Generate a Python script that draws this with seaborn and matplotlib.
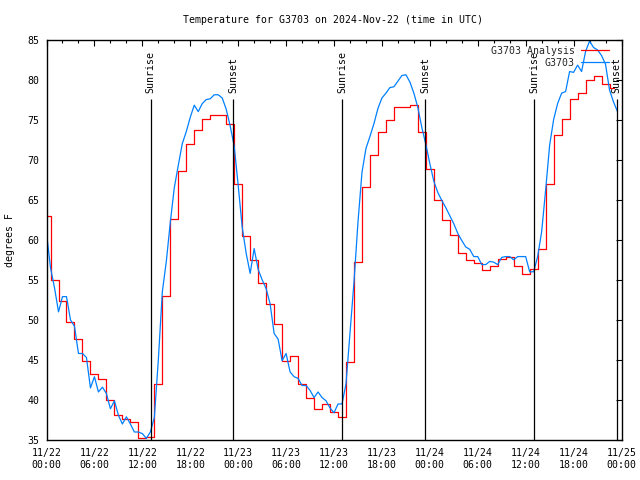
import matplotlib
matplotlib.use("Agg")
import matplotlib.pyplot as plt
import matplotlib.dates as mdates
import seaborn as sns
import pandas as pd

# Hourly analysis values (deg F), 11/22 00:00 UTC onwards
analysis_temps = [
    63.0, 55.0, 52.3, 49.7, 47.6, 44.9, 43.2, 42.6, 40.0, 38.1, 37.6, 37.2,
    35.3, 35.4, 42.0, 53.0, 62.6, 68.6, 71.9, 73.7, 75.1, 75.6, 75.6, 74.4,
    67.0, 60.5, 57.5, 54.6, 52.0, 49.5, 44.9, 45.5, 42.0, 40.3, 38.9, 39.5,
    38.5, 37.9, 44.7, 57.2, 66.6, 70.6, 73.4, 75.0, 76.6, 76.6, 76.8, 73.5,
    68.8, 65.0, 62.5, 60.6, 58.3, 57.5, 57.1, 56.2, 56.7, 57.6, 57.8, 56.7,
    55.7, 56.3, 58.9, 66.9, 73.1, 75.1, 77.6, 78.3, 79.9, 80.4, 79.5, 79.0,
]

# Station observations (deg F), every 30 minutes from 11/22 00:00 UTC
station_temps = [
    60.8, 56.5, 54.0, 51.0, 52.9, 52.9, 50.0, 49.2, 45.8, 45.8, 45.3, 41.5,
    42.9, 41.0, 41.6, 40.8, 38.9, 39.9, 38.1, 37.0, 37.9, 37.0, 36.0, 36.0,
    35.8, 35.2, 36.0, 37.8, 45.0, 53.5, 57.3, 62.2, 66.5, 69.3, 72.0, 73.5,
    75.3, 76.8, 76.0, 77.0, 77.5, 77.6, 78.1, 78.1, 77.7, 76.3, 74.2, 71.7,
    66.8, 61.6, 58.3, 55.8, 58.9, 56.3, 55.0, 53.9, 52.0, 48.3, 47.6, 44.9,
    45.8, 43.5, 42.9, 42.7, 41.8, 41.8, 41.2, 40.3, 41.0, 40.3, 39.9, 39.0,
    38.4, 39.5, 39.5, 42.0, 48.4, 54.7, 62.2, 68.4, 71.4, 72.9, 74.5, 76.4,
    77.7, 78.3, 79.0, 79.1, 79.8, 80.5, 80.6, 79.7, 78.3, 76.5, 74.0, 71.9,
    69.5, 67.3, 65.9, 64.9, 64.0, 63.0, 62.0, 60.8, 59.9, 59.1, 58.8, 57.9,
    57.9, 56.9, 56.9, 57.3, 57.2, 56.9, 57.8, 57.9, 57.9, 57.5, 57.9, 57.9,
    57.9, 56.0, 56.0, 57.9, 61.0, 66.2, 71.8, 75.0, 77.0, 78.3, 78.5, 81.0,
    80.9, 81.8, 81.0, 83.5, 84.8, 84.0, 83.7, 83.0, 81.9, 78.7, 77.2, 76.0,
]

sun_events = ["2024-11-22 13:02", "2024-11-22 23:23", "2024-11-23 13:02",
              "2024-11-23 23:23", "2024-11-24 13:03", "2024-11-24 23:23"]
sun_labels = ["Sunrise", "Sunset", "Sunrise", "Sunset", "Sunrise", "Sunset"]

start = pd.Timestamp("2024-11-22 00:00")
analysis = pd.DataFrame({
    "time": pd.date_range(start, periods=len(analysis_temps), freq="1h"),
    "temp": analysis_temps,
})
station = pd.DataFrame({
    "time": pd.date_range(start, periods=len(station_temps), freq="30min"),
    "temp": station_temps,
})

sns.set_theme(style="white")
plt.rcParams["font.family"] = ["DejaVu Sans Mono"]
plt.rcParams["font.size"] = 7.1

fig = plt.figure(figsize=(6.4, 4.8), dpi=100)
ax = fig.add_axes([0.0727, 0.0833, 0.8984, 0.8344])

sns.lineplot(data=analysis, x="time", y="temp", ax=ax, color="#ff0000",
             linewidth=0.9, drawstyle="steps-mid", label="G3703 Analysis")
sns.lineplot(data=station, x="time", y="temp", ax=ax, color="#0080ff",
             linewidth=0.9, label="G3703")

# sunrise / sunset markers
for t, lab in zip(pd.to_datetime(sun_events), sun_labels):
    ax.vlines(t, 35, 77.6, color="black", linewidth=0.9)
    ax.text(t, 78.3, lab, rotation=90, ha="center", va="bottom",
            fontsize=7.1, color="black", clip_on=False)

ax.set_xlim(start, pd.Timestamp("2024-11-25 00:00"))
ax.set_ylim(35, 85)
ax.set_yticks(range(35, 86, 5))
ax.xaxis.set_major_locator(mdates.HourLocator(byhour=[0, 6, 12, 18]))
ax.xaxis.set_minor_locator(mdates.HourLocator(interval=2))
ax.xaxis.set_major_formatter(mdates.DateFormatter("%m/%d\n%H:%M"))

ax.set_xlabel("")
ax.set_ylabel("")
for s in ax.spines.values():
    s.set_color("black")
    s.set_linewidth(1.0)
    s.set_visible(True)
ax.tick_params(which="both", direction="in", top=True, right=True,
               color="black", labelcolor="black", width=0.8)
ax.tick_params(which="major", length=4)
ax.tick_params(which="minor", length=2.5)
ax.tick_params(axis="x", which="major", pad=6, labelsize=7.1)
ax.tick_params(axis="y", which="major", pad=5, labelsize=7.1)
ax.grid(False)

ax.legend(loc="upper right", bbox_to_anchor=(0.979, 0.984), frameon=False,
          markerfirst=False, fontsize=7.1, handlelength=2.9, handletextpad=0.6,
          labelspacing=0.2, borderaxespad=0, borderpad=0)

fig.text(0.52, 1 - 20 / 480, "Temperature for G3703 on 2024-Nov-22 (time in UTC)",
         ha="center", va="center", fontsize=7.1, color="black")
fig.text(10 / 640, 0.5, "degrees F", rotation=90, ha="center", va="center",
         fontsize=7.1, color="black")

fig.savefig("out.png", dpi=100)
